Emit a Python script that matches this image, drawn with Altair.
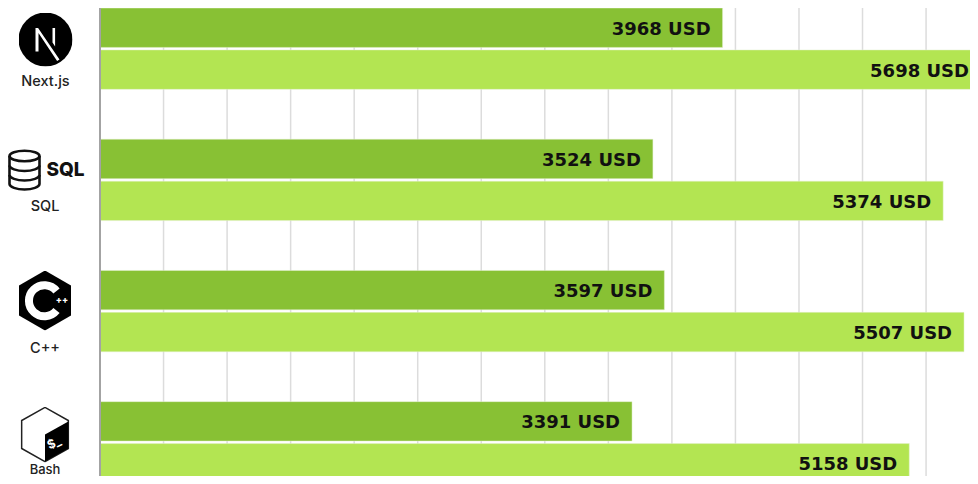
import urllib.parse
import altair as alt
import pandas as pd

languages = ["Next.js", "SQL", "C++", "Bash"]
series = ["low", "high"]
low_values = [3968, 3524, 3597, 3391]
high_values = [5698, 5374, 5507, 5158]
grid_values = [405, 810, 1215, 1620, 2025, 2430, 2835, 3240, 3645, 4050, 4455, 4860, 5265]
DARK, LIGHT = "#88c134", "#b3e552"
FONT = "DejaVu Sans"
SMALL_FONT = "Inter"

rows = []
for lang, lo, hi in zip(languages, low_values, high_values):
    rows.append({"lang": lang, "series": "low", "value": lo})
    rows.append({"lang": lang, "series": "high", "value": hi})
df = pd.DataFrame(rows)

x_scale = alt.Scale(domain=[0, 5545], range=[92, 962], nice=False, zero=False)
y_scale = alt.Scale(domain=languages, range=[0, 475], paddingInner=0.38, paddingOuter=0, align=0)
off_scale = alt.Scale(domain=series, paddingInner=0.06, paddingOuter=0)

X = alt.X("value:Q", scale=x_scale, title=None, axis=None)
Y = alt.Y("lang:N", scale=y_scale, sort=languages, axis=None, title=None)
YO = alt.YOffset("series:N", scale=off_scale, sort=series)

grid = alt.Chart(pd.DataFrame({"v": grid_values})).mark_rule(color="#dcdcdc", strokeWidth=1.5).encode(
    x=alt.X("v:Q", scale=x_scale, axis=None, title=None),
)

bars = alt.Chart(df).mark_bar(clip=True, stroke="#e4f0d0", strokeWidth=0.5).encode(
    x=X, y=Y, yOffset=YO,
    color=alt.Color("series:N", scale=alt.Scale(domain=series, range=[DARK, LIGHT]), legend=None),
)

values = alt.Chart(df).transform_calculate(
    lx="min(datum.value, 5615)", label="datum.value + ' USD'"
).mark_text(align="right", baseline="middle", dx=-12, dy=2, font=FONT, fontSize=18,
            fontWeight="bold", color="#111111").encode(
    x=alt.X("lx:Q", scale=x_scale, axis=None, title=None), y=Y, yOffset=YO, text="label:N",
)

axis_line = alt.Chart(pd.DataFrame({"v": [0]})).mark_rule(color="#a3a3a3", strokeWidth=2).encode(
    x=alt.X("v:Q", scale=x_scale, axis=None, title=None),
)


def uri(svg):
    return "data:image/svg+xml," + urllib.parse.quote(svg)


next_svg = ('<svg xmlns="http://www.w3.org/2000/svg" viewBox="0 0 54 54"><circle cx="27" cy="27" r="27" fill="#000"/>'
            '<path d="M17 39V15.5h2.6L41 47l-2.4 1.6L20 20.5V39z M34 15.5h2.6V34L34 30z" fill="#fff"/></svg>')
db_svg = ('<svg xmlns="http://www.w3.org/2000/svg" viewBox="0 0 34 42"><g fill="none" stroke="#111" stroke-width="2.6">'
          '<ellipse cx="17" cy="7" rx="15" ry="5.3"/><path d="M2 7v28c0 3 7 5.5 15 5.5S32 38 32 35V7"/>'
          '<path d="M2 16.5c0 3 7 5.5 15 5.5s15-2.500 15-5.500"/><path d="M2 26c0 3 7 5.500 15 5.500S32 29 32 26"/></g></svg>')
cpp_svg = ('<svg xmlns="http://www.w3.org/2000/svg" viewBox="0 0 54 60"><path d="M27 0L53 15V45L27 60L1 45V15z" fill="#000"/>'
           '<path d="M38.500 20.500A15.500 15.500 0 1 0 38.500 40" fill="none" stroke="#fff" stroke-width="8"/></svg>')
bash_svg = ('<svg xmlns="http://www.w3.org/2000/svg" viewBox="0 0 54 60"><path d="M27 1L52 15V45L27 59L2 45V15z" fill="#fff" stroke="#222" stroke-width="1.600"/>'
            '<path d="M52 16V45L27 59V30z" fill="#000"/></svg>')

icon_urls = [uri(next_svg), uri(db_svg), uri(cpp_svg), uri(bash_svg)]
icon_x = [37.5, 16.5, 37, 37]
icon_y = [31.5, 162, 292.5, 426.5]
icon_w = [54, 34, 54, 52]
icon_h = [54, 42, 60, 56]

icons = []
for url, ix, iy, w, h in zip(icon_urls, icon_x, icon_y, icon_w, icon_h):
    icons.append(alt.Chart(pd.DataFrame({"u": [url]})).mark_image(width=w, height=h).encode(
        url="u:N", x=alt.value(ix), y=alt.value(iy)))


def note(txt, px, py, size, weight, color="#222222", angle=0, font=SMALL_FONT):
    props = dict(align="center", baseline="middle", font=font, fontSize=size, fontWeight=weight, color=color)
    if angle:
        props["angle"] = angle
    return alt.Chart(pd.DataFrame({"t": [txt]})).mark_text(**props).encode(
        text="t:N", x=alt.value(px), y=alt.value(py))


notes = [
    note("Next.js", 37.5, 74, 14.5, 500),
    note("SQL", 37, 199, 14.5, 500),
    note("C++", 37, 341, 14.5, 500),
    note("Bash", 37, 462, 13, 500),
    note("SQL", 57.5, 162, 19, 800, "#111111"),
    note("++", 54, 292, 9, 800, "#ffffff"),
    note("$_", 46, 435, 12, 700, "#ffffff", 335),
]

chart = alt.layer(grid, bars, axis_line, values, *icons, *notes).resolve_scale(
    x="shared", y="shared"
).properties(
    width=962, height=468, padding=0, autosize=alt.AutoSizeParams(type="none"), background="#ffffff",
).configure_view(stroke=None)

chart.save("out.html", embed_options={"renderer": "svg", "actions": False})
